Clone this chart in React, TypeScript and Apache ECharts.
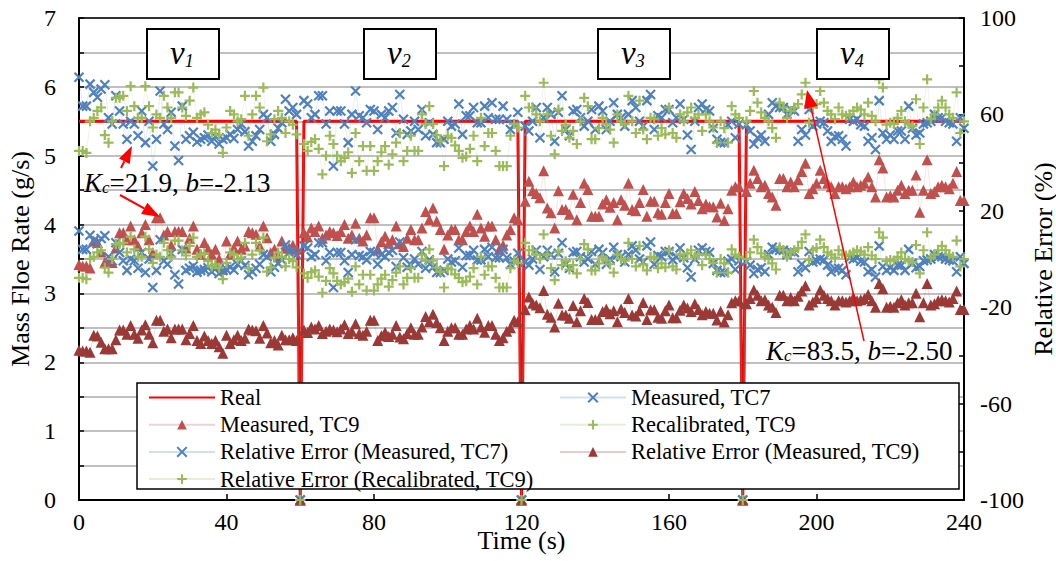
import React, { useEffect, useRef } from "react";
import * as echarts from "echarts";

const FONT = "Liberation Serif";

// time axis (s), 1 sample per second
const timeSeconds: number[] = Array.from({ length: 241 }, (_, i) => i);

// Real mass flow rate (g/s): constant level with drops to zero at segment changes
const realLevel = 5.5;
const realDropTimes = [60, 120, 180];

// Measured, TC7 (g/s)
const measuredTC7 = [
  6.14, 5.72, 5.72, 6.04, 5.92, 5.85, 5.97, 6.03, 5.55, 5.46,
  5.87, 5.65, 5.46, 5.24, 5.5, 5.46, 5.29, 5.65, 5.19, 5.5,
  4.85, 5.24, 5.94, 5.46, 5.38, 5.63, 5.14, 4.93, 5.72, 5.24,
  5.29, 5.34, 5.2, 5.24, 5.26, 5.3, 5.21, 5.28, 5.17, 5.24,
  5.26, 5.31, 5.25, 5.38, 5.46, 5.35, 5.14, 5.21, 5.29, 5.38,
  5.6, 5.55, 5.21, 5.31, 5.4, 5.48, 5.82, 5.65, 5.7, 5.6,
  0,
  5.8, 5.75, 5.55, 5.6, 5.87, 5.87, 5.46, 5.65, 4.85, 5.65,
  5.65, 5.46, 5.19, 5.6, 5.94, 5.58, 5.55, 5.48, 5.67, 5.65,
  5.38, 5.6, 5.55, 5.65, 5.7, 5.33, 5.89, 5.53, 5.31, 5.36,
  5.5, 5.38, 5.67, 5.29, 5.48, 5.31, 5.19, 5.19, 5.24, 5.5,
  5.43, 5.46, 5.75, 5.31, 5.58, 5.58, 5.7, 5.48, 5.48, 5.72,
  5.55, 5.77, 5.53, 5.53, 5.72, 5.53, 5.38, 5.45, 5.63,
  0,
  5.43, 5.36, 5.5, 5.7, 5.26, 5.55, 5.7, 5.6, 5.21, 5.63,
  5.87, 5.38, 5.29, 5.65, 5.67, 5.55, 5.43, 5.5, 5.67, 5.38,
  5.72, 5.65, 5.38, 5.5, 5.77, 5.6, 5.55, 5.43, 5.6, 5.8,
  5.7, 5.5, 5.43, 5.8, 5.89, 5.38, 5.58, 5.55, 5.67, 5.67,
  5.48, 5.55, 5.75, 5.53, 5.3, 5.09, 5.5, 5.7, 5.75, 5.67,
  5.65, 5.4, 5.24, 5.19, 5.19, 5.45, 5.5, 5.26, 5.46,
  0,
  5.45, 5.36, 5.17, 5.26, 5.3, 5.21, 5.6, 5.77, 5.72, 5.7,
  5.7, 5.6, 5.67, 5.65, 5.21, 5.38, 5.3, 5.67, 5.43, 5.46,
  5.5, 5.48, 5.36, 5.21, 5.28, 5.29, 5.24, 5.14, 5.53, 5.5,
  5.53, 5.45, 5.43, 5.21, 5.26, 5.09, 5.8, 5.33, 5.24, 5.3,
  5.24, 5.36, 5.36, 5.24, 5.72, 5.4, 5.3, 5.33, 5.46, 5.48,
  5.5, 5.6, 5.55, 5.55, 5.5, 5.48, 5.46, 5.21, 5.55, 5.4,
];

// Measured, TC9 (g/s)
const measuredTC9 = [
  3.42, 3.4, 3.4, 3.37, 3.76, 3.74, 3.6, 3.45, 3.45, 3.45,
  3.66, 3.88, 3.88, 3.78, 3.98, 3.78, 3.69, 3.88, 4.0, 3.78,
  3.59, 4.1, 4.1, 3.85, 3.9, 3.7, 3.9, 3.9, 3.9, 3.66,
  3.8, 3.98, 3.64, 3.57, 3.74, 3.64, 3.57, 3.64, 3.5, 3.35,
  3.76, 3.57, 3.66, 3.76, 3.64, 3.69, 3.9, 3.88, 3.86, 3.69,
  3.98, 3.81, 3.59, 3.64, 3.54, 3.76, 3.66, 3.66, 3.7, 3.64,
  0,
  3.88, 3.82, 3.95, 3.9, 3.98, 3.8, 3.85, 3.9, 3.88, 3.84,
  3.9, 4.0, 3.8, 3.85, 4.02, 3.8, 3.76, 3.85, 4.1, 4.1,
  3.64, 3.75, 3.83, 3.73, 3.78, 3.98, 3.72, 3.68, 3.8, 3.93,
  3.78, 3.78, 3.95, 4.19, 4.07, 4.24, 4.05, 3.93, 3.64, 3.85,
  3.93, 3.93, 3.78, 3.78, 3.9, 3.98, 3.9, 4.15, 3.95, 3.83,
  3.98, 3.98, 3.78, 3.64, 3.7, 3.85, 3.93, 4.1, 4.07,
  0,
  4.34, 4.63, 4.49, 4.45, 4.39, 4.78, 4.24, 4.17, 3.95, 4.49,
  4.22, 4.22, 4.15, 4.44, 4.07, 4.32, 4.6, 4.51, 4.12, 4.12,
  4.12, 4.3, 4.36, 4.25, 4.32, 4.07, 4.36, 4.28, 4.6, 4.22,
  4.2, 4.32, 4.51, 4.12, 4.34, 4.34, 4.17, 4.15, 4.32, 4.45,
  4.16, 4.16, 4.33, 4.45, 4.38, 4.3, 4.48, 4.35, 4.23, 4.3,
  4.26, 4.26, 4.11, 4.31, 4.06, 4.23, 4.5, 4.55, 4.55,
  0,
  4.48, 4.6, 4.79, 4.67, 4.55, 4.57, 4.45, 4.4, 4.28, 4.67,
  4.67, 4.55, 4.62, 4.55, 4.65, 4.77, 4.89, 4.45, 4.52, 4.6,
  4.79, 4.67, 4.6, 4.55, 4.45, 4.55, 4.55, 4.52, 4.55, 4.62,
  4.55, 4.57, 4.6, 4.69, 4.55, 4.4, 4.94, 4.82, 4.4, 4.42,
  4.4, 4.5, 4.57, 4.45, 4.5, 4.5, 4.72, 4.18, 4.5, 4.94,
  4.45, 4.48, 4.55, 4.57, 4.55, 4.52, 4.6, 4.77, 4.35, 4.35,
];

// Recalibrated, TC9 (g/s)
const recalibratedTC9 = [
  5.07, 5.07, 5.04, 5.5, 5.55, 5.65, 5.7, 5.3, 5.19, 5.5,
  5.84, 5.84, 5.87, 5.65, 6.01, 5.72, 5.55, 5.55, 6.01, 5.72,
  5.41, 5.6, 5.55, 5.87, 5.7, 5.55, 5.92, 5.92, 5.7, 5.58,
  5.8, 5.99, 5.55, 5.6, 5.63, 5.45, 5.33, 5.38, 5.3, 5.04,
  5.41, 5.65, 5.6, 5.5, 5.53, 5.87, 5.29, 5.6, 5.87, 5.7,
  5.99, 5.21, 5.31, 5.53, 5.65, 5.55, 5.33, 5.5, 5.45, 5.31,
  0,
  5.17, 5.07, 5.2, 5.24, 5.1, 4.73, 5.0, 5.29, 5.17, 5.0,
  4.92, 4.97, 5.05, 4.75, 5.33, 4.92, 5.14, 4.78, 5.14, 4.78,
  4.92, 5.05, 5.14, 4.87, 5.02, 5.19, 5.33, 4.92, 5.07, 5.29,
  5.07, 5.07, 5.6, 5.46, 5.72, 5.46, 5.3, 5.21, 4.85, 5.29,
  5.26, 5.15, 5.07, 4.97, 4.99, 5.1, 5.29, 4.92, 5.55, 5.14,
  5.33, 5.33, 5.07, 4.85, 4.85, 4.85, 5.29, 5.46, 5.41,
  0,
  5.87, 5.7, 5.7, 5.6, 5.5, 6.06, 5.6, 5.29, 5.02, 5.67,
  5.36, 5.45, 5.26, 5.36, 5.17, 5.5, 5.84, 5.72, 5.24, 5.24,
  5.4, 5.55, 5.46, 5.38, 5.19, 5.6, 5.5, 5.46, 5.87, 5.5,
  5.33, 5.8, 5.38, 5.24, 5.55, 5.53, 5.29, 5.4, 5.31, 5.7,
  5.33, 5.26, 5.6, 5.5, 5.63, 5.7, 5.55, 5.6, 5.36, 5.6,
  5.5, 5.41, 5.19, 5.5, 5.4, 5.19, 5.72, 5.6, 5.55,
  0,
  5.5, 5.65, 5.94, 5.77, 5.63, 5.55, 5.5, 5.4, 5.26, 5.77,
  5.7, 5.55, 5.65, 5.7, 5.75, 5.89, 6.06, 5.48, 5.7, 5.75,
  5.94, 5.77, 5.65, 5.6, 5.53, 5.7, 5.6, 5.58, 5.6, 5.65,
  5.7, 5.67, 5.6, 5.77, 5.58, 5.5, 6.11, 5.99, 5.45, 5.48,
  5.46, 5.55, 5.65, 5.5, 5.46, 5.43, 5.82, 5.17, 5.7, 6.11,
  5.53, 5.6, 5.7, 5.8, 5.7, 5.6, 5.55, 5.92, 5.33, 5.5,
];

// speed-segment labels
const segmentLabels = ["1", "2", "3", "4"];

const realRate = timeSeconds.map((t) => (realDropTimes.includes(t) ? 0 : realLevel));
const relativeError = (m: number[]) =>
  m.map((v, i) => (realRate[i] === 0 ? -100 : (v / realRate[i] - 1) * 100));
const pairs = (arr: number[]) => arr.map((v, i) => [timeSeconds[i], v]);

const BLUE = "#4F81BD";
const GREEN = "#9BBB59";
const RED_T = "#C0504D";
const DARK_T = "#9A3936";
const X_SYM = "path://M0,0L10,10M10,0L0,10";
const PLUS_SYM = "path://M5,0L5,10M0,5L10,5";

function arrow(x1: number, y1: number, x2: number, y2: number, len: number, hw: number, lw: number) {
  const dx = x2 - x1;
  const dy = y2 - y1;
  const d = Math.sqrt(dx * dx + dy * dy);
  const ux = dx / d;
  const uy = dy / d;
  const bx = x2 - ux * len;
  const by = y2 - uy * len;
  const px = -uy * hw;
  const py = ux * hw;
  return [
    { type: "line", z: 50, shape: { x1, y1, x2: bx, y2: by }, style: { stroke: "#FF0000", lineWidth: lw } },
    {
      type: "polygon",
      z: 50,
      shape: { points: [[x2, y2], [bx + px, by + py], [bx - px, by - py]] },
      style: { fill: "#FF0000" },
    },
  ];
}

function segBox(cx: number, label: string) {
  return [
    { type: "rect", z: 40, shape: { x: cx - 36, y: 29, width: 72, height: 50 }, style: { fill: "#fff", stroke: "#000", lineWidth: 2 } },
    {
      type: "text",
      z: 41,
      x: cx - 13,
      y: 53,
      style: {
        text: `{v|v}{s|${label}}`,
        align: "left",
        verticalAlign: "middle",
        fill: "#000",
        rich: {
          v: { fontFamily: FONT, fontStyle: "italic", fontSize: 33, lineHeight: 33, fill: "#000" },
          s: { fontFamily: FONT, fontStyle: "italic", fontSize: 18, lineHeight: 16, verticalAlign: "bottom", fill: "#000" },
        },
      },
    },
  ];
}

function kcText(x: number, y: number, kc: string, b: string) {
  return {
    type: "text",
    z: 45,
    x,
    y,
    style: {
      text: `{i|K}{s|c}{n|=${kc}, }{i|b}{n|=${b}}`,
      align: "left",
      verticalAlign: "middle",
      fill: "#000",
      rich: {
        i: { fontFamily: FONT, fontStyle: "italic", fontSize: 27, lineHeight: 27, fill: "#000" },
        n: { fontFamily: FONT, fontSize: 27, lineHeight: 27, fill: "#000" },
        s: { fontFamily: FONT, fontStyle: "italic", fontSize: 17, lineHeight: 14, verticalAlign: "bottom", fill: "#000" },
      },
    },
  };
}

export default function App() {
  const ref = useRef<HTMLDivElement>(null);

  useEffect(() => {
    if (!ref.current) return;
    const chart = echarts.init(ref.current, undefined, { renderer: "svg" });

    const tickStyle = { color: "#000", fontSize: 24, fontFamily: FONT };
    const nameStyle = { color: "#000", fontSize: 26, fontFamily: FONT };
    const legendText = { color: "#000", fontSize: 22.5, fontFamily: FONT };
    const scatterLine = (color: string) => ({ width: 0.6, color, opacity: 0.25 });

    const legendCommon = {
      orient: "vertical",
      top: 386,
      padding: 0,
      itemWidth: 66,
      itemHeight: 12,
      itemGap: 4.2,
      selectedMode: false,
      z: 200,
      textStyle: legendText,
    };

    const option: any = {
      animation: false,
      backgroundColor: "#fff",
      textStyle: { fontFamily: FONT },
      grid: { left: 79, right: 92, top: 18, bottom: 61, containLabel: false, outerBoundsMode: "none" },
      xAxis: [
        {
          type: "value",
          min: 0,
          max: 240,
          interval: 40,
          position: "bottom",
          axisLine: { show: true, onZero: false, lineStyle: { color: "#000", width: 2 } },
          axisTick: { show: true, inside: true, length: 6, lineStyle: { color: "#000", width: 1.5 } },
          axisLabel: { ...tickStyle, margin: 10 },
          splitLine: { show: false },
          name: "Time (s)",
          nameLocation: "middle",
          nameGap: 27,
          nameMoveOverlap: false,
          nameTextStyle: nameStyle,
        },
        {
          type: "value",
          min: 0,
          max: 240,
          position: "top",
          axisLine: { show: true, onZero: false, lineStyle: { color: "#000", width: 1.5 } },
          axisTick: { show: false },
          axisLabel: { show: false },
          splitLine: { show: false },
        },
      ],
      yAxis: [
        {
          type: "value",
          min: 0,
          max: 7,
          interval: 0.5,
          position: "left",
          axisLine: { show: true, onZero: false, lineStyle: { color: "#000", width: 2 } },
          axisTick: { show: true, inside: true, length: 5, lineStyle: { color: "#000", width: 1.5 } },
          axisLabel: {
            ...tickStyle,
            margin: 23,
            formatter: (v: number) => (Math.abs(v - Math.round(v)) < 1e-6 ? String(Math.round(v)) : ""),
          },
          splitLine: { show: true, lineStyle: { color: "#ababab", width: 1.5 } },
          name: "Mass Floe Rate (g/s)",
          nameLocation: "middle",
          nameGap: 46,
          nameRotate: 90,
          nameMoveOverlap: false,
          nameTextStyle: nameStyle,
        },
        {
          type: "value",
          min: -100,
          max: 100,
          interval: 20,
          position: "right",
          axisLine: { show: true, onZero: false, lineStyle: { color: "#000", width: 2 } },
          axisTick: { show: true, inside: true, length: 5, lineStyle: { color: "#000", width: 1.5 } },
          axisLabel: {
            ...tickStyle,
            margin: 16,
            formatter: (v: number) => ((Math.round(v) + 100) % 40 === 0 ? String(Math.round(v)) : ""),
          },
          splitLine: { show: false },
          name: "Relative Error (%)",
          nameLocation: "middle",
          nameGap: 66,
          nameRotate: 90,
          nameMoveOverlap: false,
          nameTextStyle: nameStyle,
        },
      ],
      legend: [
        {
          ...legendCommon,
          left: 148,
          data: [
            { name: "Real", itemStyle: { opacity: 0 } },
            "Measured, TC9",
            "Relative Error (Measured, TC7)",
            "Relative Error (Recalibrated, TC9)",
          ],
        },
        {
          ...legendCommon,
          left: 559,
          data: ["Measured, TC7", "Recalibrated, TC9", "Relative Error (Measured, TC9)"],
        },
      ],
      graphic: [
        {
          type: "rect",
          z: 100,
          shape: { x: 137, y: 383, width: 822, height: 106 },
          style: { fill: "#fff", stroke: "#000", lineWidth: 1.5 },
        },
        ...segBox(183, segmentLabels[0]),
        ...segBox(400, segmentLabels[1]),
        ...segBox(634, segmentLabels[2]),
        ...segBox(853, segmentLabels[3]),
        kcText(84, 182.8, "21.9", "-2.13"),
        kcText(766, 350.8, "83.5", "-2.50"),
        ...arrow(121, 168, 132, 146, 17, 6, 2),
        ...arrow(120, 195, 160, 217, 18, 6.5, 2),
        ...arrow(864, 341, 807, 90, 18, 7, 1.5),
      ],
      series: [
        {
          name: "Real",
          type: "line",
          yAxisIndex: 0,
          data: pairs(realRate),
          symbol: "none",
          lineStyle: { color: "#FF0000", width: 3 },
          itemStyle: { color: "#FF0000" },
        },
        {
          name: "Measured, TC7",
          type: "line",
          yAxisIndex: 0,
          data: pairs(measuredTC7),
          symbol: X_SYM,
          symbolSize: 9,
          showAllSymbol: true,
          lineStyle: scatterLine(BLUE),
          itemStyle: { color: BLUE, borderColor: BLUE, borderWidth: 2.2 },
        },
        {
          name: "Measured, TC9",
          type: "line",
          yAxisIndex: 0,
          data: pairs(measuredTC9),
          symbol: "triangle",
          symbolSize: 11,
          showAllSymbol: true,
          lineStyle: scatterLine(RED_T),
          itemStyle: { color: RED_T },
        },
        {
          name: "Recalibrated, TC9",
          type: "line",
          yAxisIndex: 0,
          data: pairs(recalibratedTC9),
          symbol: PLUS_SYM,
          symbolSize: 10,
          showAllSymbol: true,
          lineStyle: scatterLine(GREEN),
          itemStyle: { color: GREEN, borderColor: GREEN, borderWidth: 2.2 },
        },
        {
          name: "Relative Error (Measured, TC7)",
          type: "line",
          yAxisIndex: 1,
          data: pairs(relativeError(measuredTC7)),
          symbol: X_SYM,
          symbolSize: 9,
          showAllSymbol: true,
          lineStyle: scatterLine(BLUE),
          itemStyle: { color: BLUE, borderColor: BLUE, borderWidth: 2.2 },
        },
        {
          name: "Relative Error (Measured, TC9)",
          type: "line",
          yAxisIndex: 1,
          data: pairs(relativeError(measuredTC9)),
          symbol: "triangle",
          symbolSize: 11,
          showAllSymbol: true,
          lineStyle: scatterLine(DARK_T),
          itemStyle: { color: DARK_T },
        },
        {
          name: "Relative Error (Recalibrated, TC9)",
          type: "line",
          yAxisIndex: 1,
          data: pairs(relativeError(recalibratedTC9)),
          symbol: PLUS_SYM,
          symbolSize: 10,
          showAllSymbol: true,
          lineStyle: scatterLine(GREEN),
          itemStyle: { color: GREEN, borderColor: GREEN, borderWidth: 2.2 },
        },
      ],
    };

    chart.setOption(option);
    return () => chart.dispose();
  }, []);

  return (
    <div
      ref={ref}
      style={{ position: "fixed", left: 0, top: 0, width: 1056, height: 561, background: "#fff" }}
    />
  );
}
